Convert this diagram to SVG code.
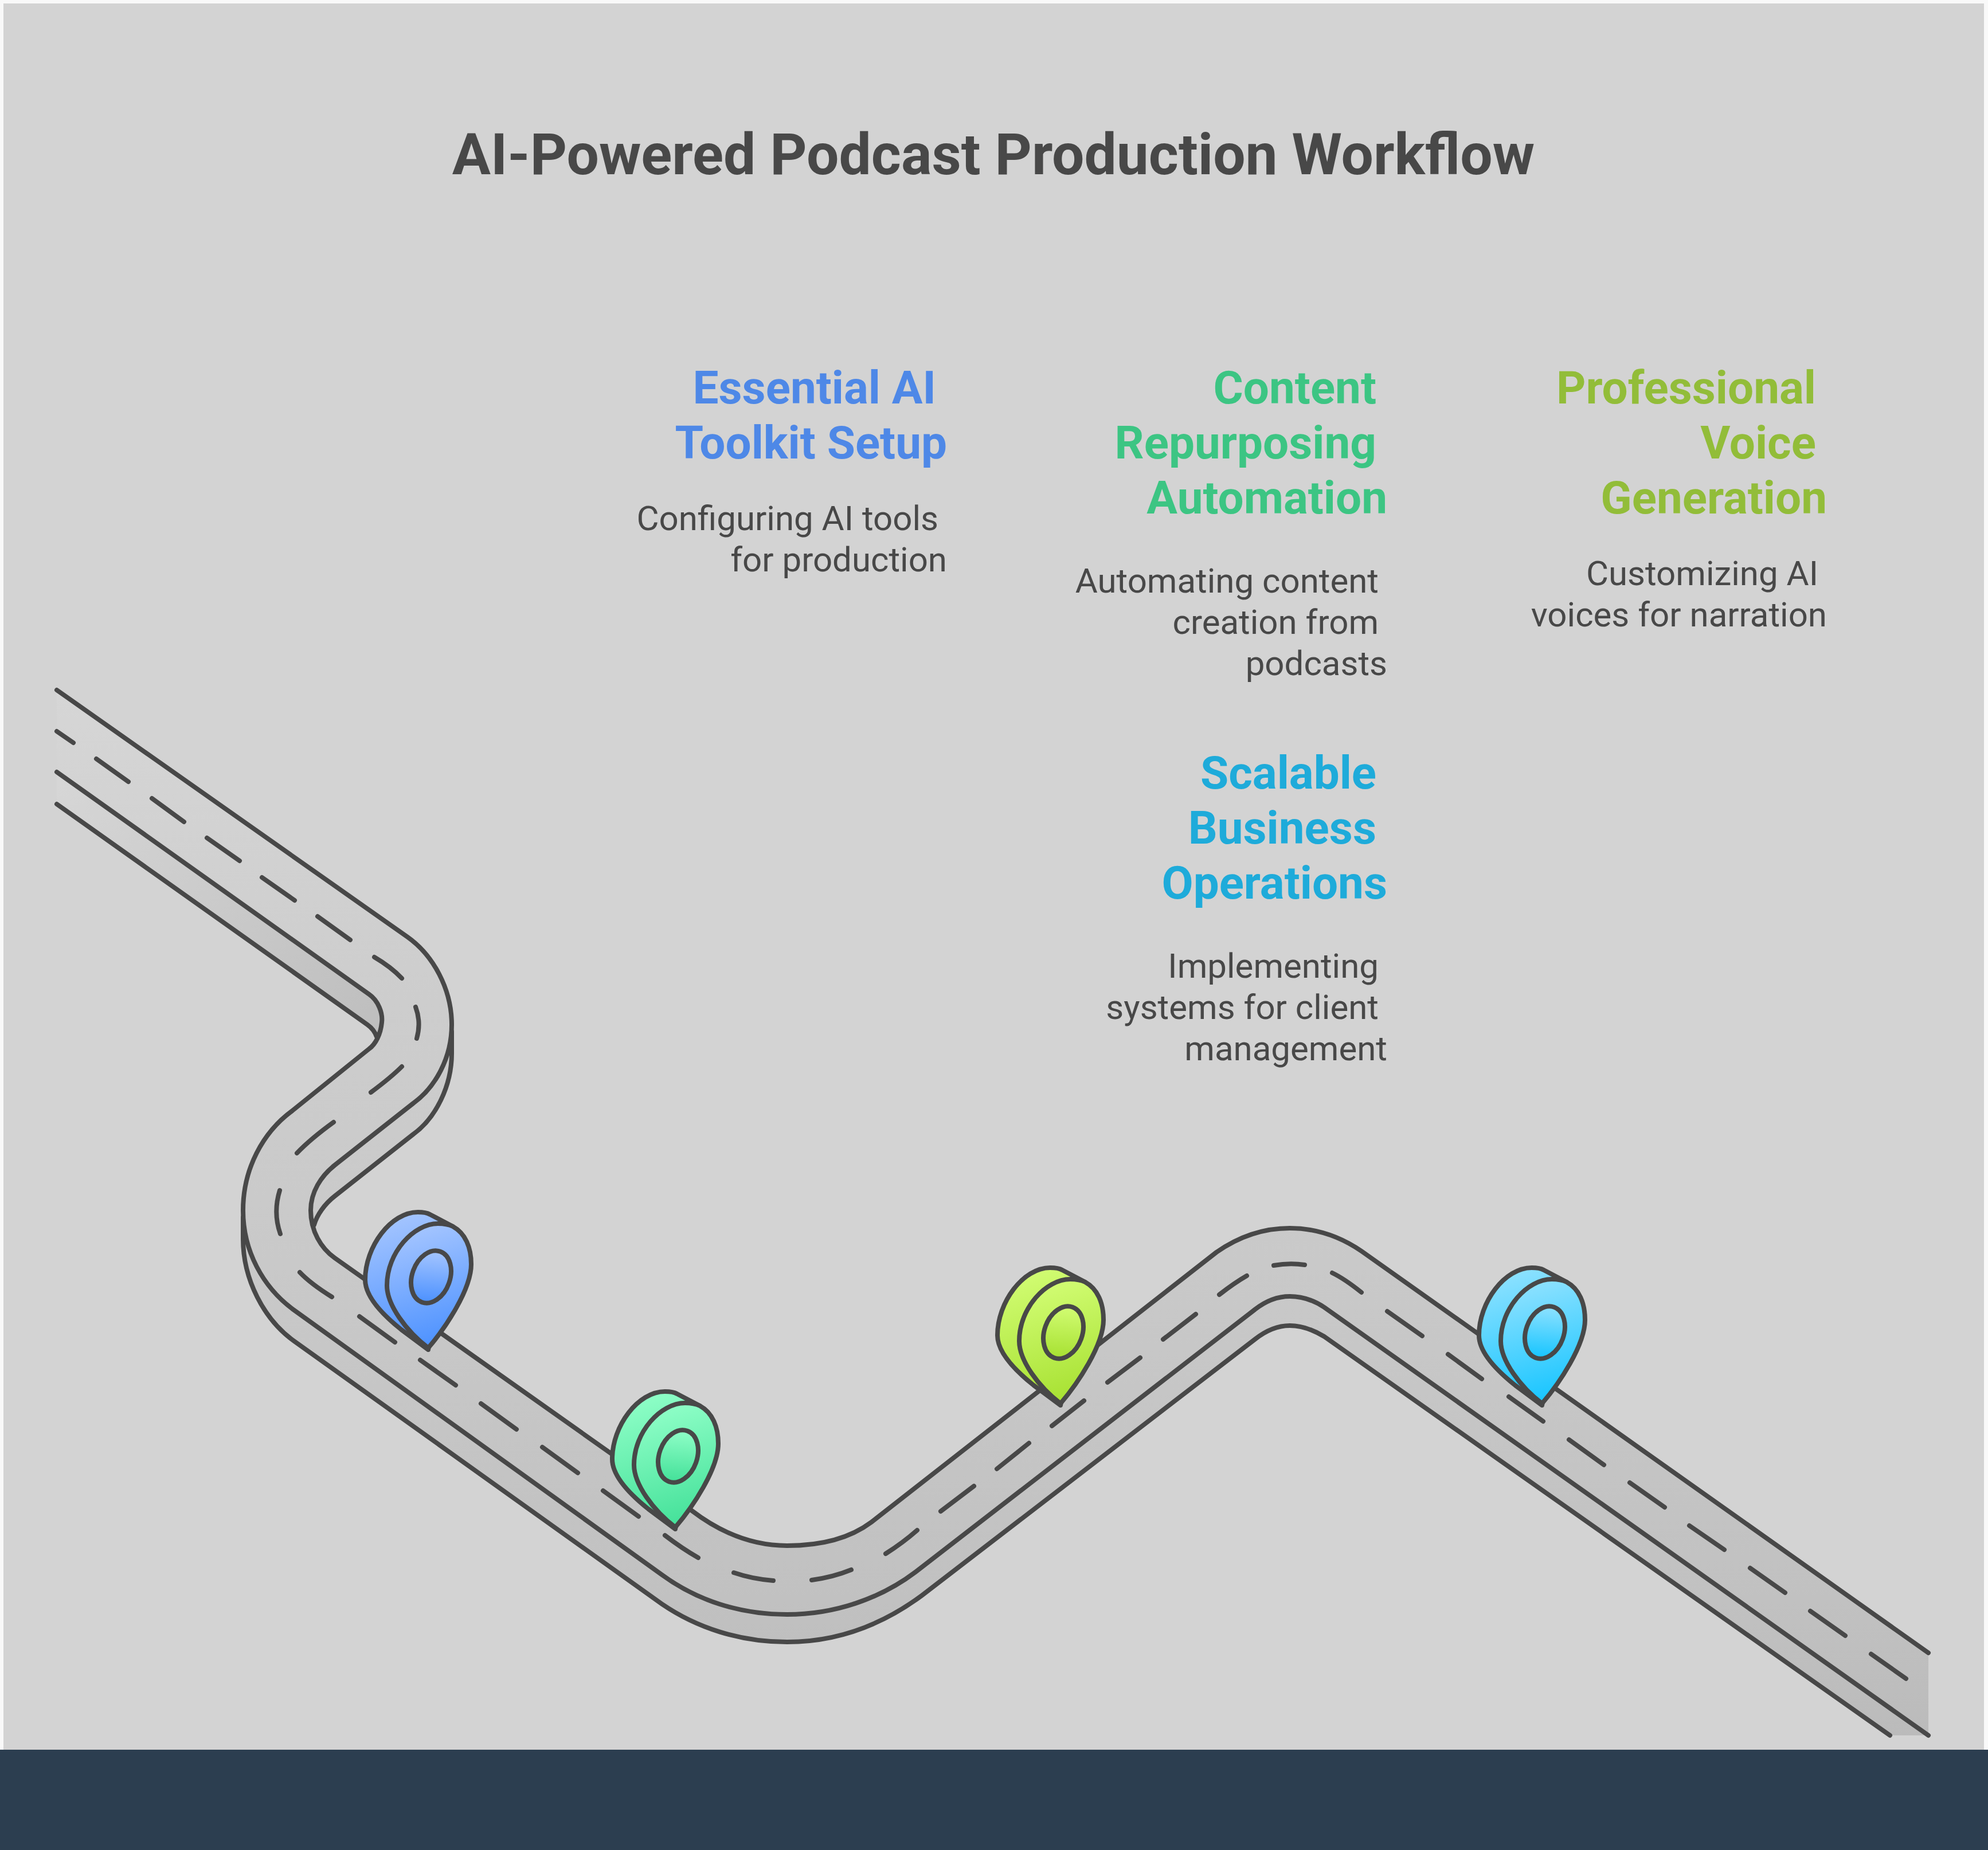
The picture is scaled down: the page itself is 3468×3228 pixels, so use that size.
<svg xmlns="http://www.w3.org/2000/svg" xmlns:xlink="http://www.w3.org/1999/xlink" width="3468" height="3228" viewBox="0 0 3468 3228">
<defs>
<linearGradient id="road" gradientUnits="userSpaceOnUse" x1="0" y1="1200" x2="0" y2="3030"><stop offset="0" stop-color="#d6d6d6"/><stop offset="0.3" stop-color="#cdcdcd"/><stop offset="0.55" stop-color="#c9c9c9"/><stop offset="0.87" stop-color="#c1c1c1"/><stop offset="1" stop-color="#bbbbbb"/></linearGradient>
<linearGradient id="side" gradientUnits="userSpaceOnUse" x1="99" y1="1370" x2="650" y2="1770"><stop offset="0" stop-color="#d6d6d6"/><stop offset="1" stop-color="#bfbfbf"/></linearGradient>
<linearGradient id="gBlue" x1="0.4" y1="0" x2="0.6" y2="1"><stop offset="0" stop-color="#a6c6ff"/><stop offset="1" stop-color="#4a90ff"/></linearGradient>
<linearGradient id="gGreen" x1="0.4" y1="0" x2="0.6" y2="1"><stop offset="0" stop-color="#90ffc8"/><stop offset="1" stop-color="#42e098"/></linearGradient>
<linearGradient id="gLime" x1="0.4" y1="0" x2="0.6" y2="1"><stop offset="0" stop-color="#d2fd74"/><stop offset="1" stop-color="#a6e030"/></linearGradient>
<linearGradient id="gCyan" x1="0.4" y1="0" x2="0.6" y2="1"><stop offset="0" stop-color="#90e2ff"/><stop offset="1" stop-color="#14c4ff"/></linearGradient>
<g id="pin">
<path class="pn" d="M0,0 L-47,-35 C-72,-55 -110,-90 -110,-122 C-110,-180 -65,-240 -18,-240 C-8,-240 -2,-239 3,-236 L43,-215 L0,0 Z"/>
<path class="pn" d="M0,-3 C-38,-32 -72,-78 -72,-112 C-72,-170 -25,-220 17,-220 C27,-220 35,-219 43,-215 C65,-203 75,-178 75,-149 C75,-105 30,-38 0,-3 Z"/>
<ellipse class="pn" cx="5" cy="-127" rx="33" ry="47" transform="rotate(20 5 -127)"/>
</g>
</defs>
<style>
.ln{stroke:#484848;stroke-width:8;stroke-linecap:round;stroke-linejoin:round;fill:none}
.pn{stroke:#484848;stroke-width:8;stroke-linejoin:round}
.t{font-family:Roboto,"Liberation Sans",sans-serif;text-anchor:end}
.h{font-size:80px;font-weight:700}
.b{font-size:60px;font-weight:400;fill:#484848}
.cb{fill:#4e88e7}.cg{fill:#3cc583}.cc{fill:#1eabda}.cl{fill:#92bd39}
</style>
<rect width="3468" height="3228" fill="#f9f9f9"/>
<rect x="6" y="6" width="3455" height="3048" fill="#d3d3d3"/>
<rect y="3053" width="3468" height="175" fill="#2c3e50"/>
<text id="title" x="1733" y="304" font-family="Roboto,'Liberation Sans',sans-serif" font-size="100" font-weight="700" text-anchor="middle" fill="#484848">AI-Powered Podcast Production Workflow</text>
<g id="connectors">
<path id="road-body" fill="url(#road)" d="M99,1204 L711,1635 C756,1667 788,1726 788,1788 L788,1838 C788,1895 760,1951 721,1979 L584,2087 C566,2101 553,2120 548,2137 C553,2160 566,2182 584,2195 L1207,2636 C1258,2675 1315,2697 1373,2697 C1430,2697 1480,2686 1520,2656 L2122,2185 C2162,2157 2205,2143 2250,2143 C2295,2143 2337,2157 2375,2183 L3364,2884 L3364,3028 L3297,3028 L2310,2332 C2290,2320 2270,2313 2250,2313 C2228,2313 2208,2322 2189,2337 L1608,2784 C1535,2838 1455,2865 1373,2865 C1290,2865 1215,2840 1155,2799 L513,2340 C460,2302 424,2232 424,2162 L424,2112 C424,2042 460,1975 510,1938 L644,1830 C655,1822 660,1816 657,1809 C650,1800 647,1795 641,1788 L99,1403 Z"/>
<path id="road-side" fill="url(#side)" d="M99,1347 L644,1735 C660,1746 668,1768 666,1784 C665,1795 661,1803 657,1809 C650,1800 647,1795 641,1788 L99,1403 Z"/>
<path class="ln" d="M99,1204 L711,1635 C756,1667 788,1726 788,1788 C788,1845 760,1897 721,1925 L584,2033 C560,2052 542,2080 542,2112 C542,2148 560,2178 584,2195 L1207,2636 C1258,2675 1315,2697 1373,2697 C1430,2697 1480,2686 1520,2656 L2122,2185 C2162,2157 2205,2143 2250,2143 C2295,2143 2337,2157 2375,2183 L3364,2884"/>
<path class="ln" d="M788,1800 L788,1838 C788,1895 760,1951 721,1979 L584,2087 C566,2101 553,2120 548,2137"/>
<path class="ln" d="M99,1347 L644,1735 C660,1746 668,1768 666,1784 C664,1805 655,1822 644,1830 L510,1938 C458,1976 424,2040 424,2112 C424,2182 458,2246 513,2286 L1155,2748 C1215,2792 1290,2817 1373,2817 C1455,2817 1535,2790 1597,2743 L2189,2285 C2208,2270 2228,2262 2250,2262 C2272,2262 2292,2269 2310,2281 L3364,3028"/>
<path class="ln" d="M99,1403 L641,1788 C648,1793 654,1800 657,1809"/>
<path class="ln" d="M424,2124 L424,2162 C424,2232 460,2302 513,2340 L1155,2799 C1215,2840 1290,2865 1373,2865 C1455,2865 1535,2838 1608,2784 L2189,2337 C2208,2322 2228,2313 2250,2313 C2270,2313 2290,2320 2310,2332 L3297,3028"/>
<path id="dashes" class="ln" d="M99,1276 L128,1296 M168,1324 L224,1364 M265,1393 L321,1434 M361,1462 L418,1502 M457,1531 L514,1571 M554,1599 L611,1640 M653,1670 Q682,1687 701,1707 M725,1757 Q735,1784 727,1812 M701,1861 Q682,1880 647,1906 M582,1958 Q542,1987 518,2012 M488,2077 Q476,2116 489,2153 M523,2220 Q542,2240 579,2263 M627,2297 L689,2342 M733,2373 L795,2417 M839,2449 L901,2494 M946,2525 L1008,2570 M1052,2601 L1114,2646 M1160,2679 Q1190,2702 1218,2718 M1280,2744 Q1312,2755 1349,2758 M1416,2757 Q1453,2752 1485,2739 M1545,2711 Q1575,2692 1600,2670 M1641,2637 L1699,2593 M1739,2563 L1795,2518 M1835,2488 L1891,2444 M1932,2412 L1989,2369 M2029,2337 L2086,2293 M2127,2259 Q2154,2238 2175,2226 M2222,2208 Q2250,2203 2276,2207 M2324,2221 Q2345,2231 2375,2255 M2420,2288 L2481,2331 M2526,2363 L2585,2406 M2632,2437 L2692,2480 M2737,2512 L2798,2556 M2843,2587 L2904,2630 M2947,2662 L3008,2704 M3053,2736 L3114,2779 M3158,2811 L3219,2854 M3264,2886 L3325,2929"/>
</g>
<g id="step-essential-ai-toolkit">
<use xlink:href="#pin" href="#pin" x="747" y="2355" fill="url(#gBlue)"/>
<text class="t h cb"><tspan x="1633" y="704">Essential AI</tspan><tspan x="1652" y="800">Toolkit Setup</tspan></text>
<text class="t b"><tspan x="1637" y="925">Configuring AI tools</tspan><tspan x="1652" y="997">for production</tspan></text>
</g>
<g id="step-content-repurposing">
<use xlink:href="#pin" href="#pin" x="1178" y="2668" fill="url(#gGreen)"/>
<text class="t h cg"><tspan x="2401" y="704">Content</tspan><tspan x="2401" y="800">Repurposing</tspan><tspan x="2420" y="896">Automation</tspan></text>
<text class="t b"><tspan x="2405" y="1034">Automating content</tspan><tspan x="2405" y="1106">creation from</tspan><tspan x="2420" y="1178">podcasts</tspan></text>
</g>
<g id="step-professional-voice">
<use xlink:href="#pin" href="#pin" x="1850" y="2452" fill="url(#gLime)"/>
<text class="t h cl"><tspan x="3168" y="704">Professional</tspan><tspan x="3168" y="800">Voice</tspan><tspan x="3187" y="896">Generation</tspan></text>
<text class="t b"><tspan x="3172" y="1021">Customizing AI</tspan><tspan x="3187" y="1093">voices for narration</tspan></text>
</g>
<g id="step-scalable-business">
<use xlink:href="#pin" href="#pin" x="2690" y="2452" fill="url(#gCyan)"/>
<text class="t h cc"><tspan x="2401" y="1376">Scalable</tspan><tspan x="2401" y="1472">Business</tspan><tspan x="2420" y="1568">Operations</tspan></text>
<text class="t b"><tspan x="2405" y="1706">Implementing</tspan><tspan x="2405" y="1778">systems for client</tspan><tspan x="2420" y="1850">management</tspan></text>
</g>
</svg>
